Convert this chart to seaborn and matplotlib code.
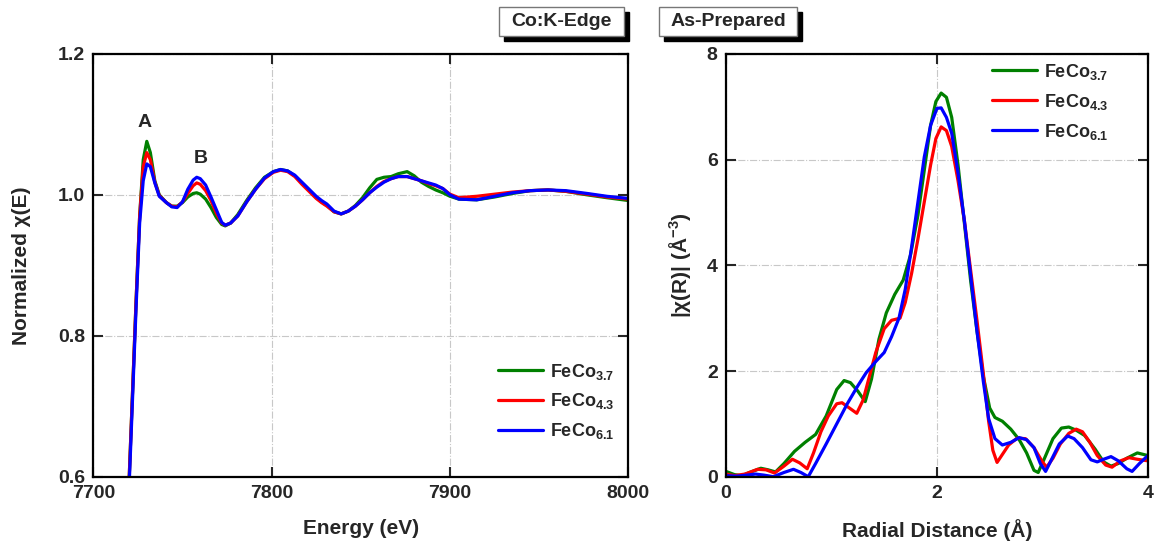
"""
Co K-edge XANES y |chi(R)| para FeCo (as-prepared).
"""

import matplotlib
matplotlib.use("Agg")
import matplotlib.pyplot as plt
from matplotlib.patches import Rectangle
import seaborn as sns
import pandas as pd

# ---- datos XANES (energia en eV) ----
energy = [7718, 7720, 7722, 7724, 7726, 7728, 7730, 7732, 7734.5, 7737,
          7741, 7744, 7747, 7750, 7753, 7756, 7758, 7760, 7763, 7766,
          7769, 7772, 7774, 7777, 7781, 7786, 7791, 7796, 7801, 7805,
          7809, 7813, 7817, 7821, 7825, 7828, 7831, 7835, 7839, 7843,
          7847, 7851, 7855, 7859, 7863, 7867, 7871, 7876, 7880, 7884,
          7888, 7892, 7896, 7900, 7905, 7915, 7925, 7935, 7945, 7955,
          7965, 7977, 7988, 8000]
xanes_37 = [0.50, 0.59, 0.72, 0.85, 0.97, 1.050, 1.076, 1.060, 1.020, 1.000,
            0.989, 0.984, 0.984, 0.989, 0.997, 1.002, 1.003, 1.001, 0.994, 0.982,
            0.968, 0.958, 0.956, 0.960, 0.972, 0.992, 1.010, 1.025, 1.033, 1.036,
            1.034, 1.027, 1.017, 1.007, 0.996, 0.990, 0.985, 0.976, 0.973, 0.977,
            0.985, 0.996, 1.010, 1.022, 1.025, 1.026, 1.030, 1.033, 1.027, 1.018,
            1.012, 1.007, 1.003, 0.998, 0.994, 0.993, 0.997, 1.002, 1.006, 1.007,
            1.005, 1.000, 0.996, 0.992]
xanes_43 = [0.50, 0.59, 0.72, 0.85, 0.97, 1.040, 1.060, 1.050, 1.018, 0.999,
            0.989, 0.984, 0.983, 0.990, 1.002, 1.013, 1.017, 1.015, 1.006, 0.992,
            0.974, 0.960, 0.957, 0.960, 0.970, 0.990, 1.008, 1.023, 1.032, 1.035,
            1.033, 1.026, 1.015, 1.005, 0.995, 0.989, 0.984, 0.976, 0.973, 0.977,
            0.984, 0.993, 1.003, 1.012, 1.019, 1.023, 1.026, 1.026, 1.023, 1.020,
            1.016, 1.013, 1.009, 1.001, 0.996, 0.998, 1.001, 1.004, 1.006, 1.007,
            1.005, 1.001, 0.997, 0.994]
xanes_61 = [0.49, 0.58, 0.71, 0.84, 0.96, 1.020, 1.044, 1.040, 1.017, 0.998,
            0.989, 0.983, 0.982, 0.990, 1.008, 1.021, 1.025, 1.023, 1.014, 0.997,
            0.979, 0.961, 0.957, 0.960, 0.970, 0.990, 1.008, 1.024, 1.033, 1.036,
            1.034, 1.028, 1.018, 1.008, 0.998, 0.992, 0.987, 0.977, 0.973, 0.977,
            0.984, 0.993, 1.003, 1.011, 1.018, 1.023, 1.026, 1.026, 1.023, 1.020,
            1.017, 1.014, 1.009, 1.000, 0.994, 0.993, 0.998, 1.003, 1.006, 1.007,
            1.006, 1.002, 0.998, 0.995]

# ---- datos EXAFS |chi(R)| ----
r_37 = [0.00, 0.08, 0.15, 0.25, 0.33, 0.40, 0.47, 0.55, 0.65, 0.75,
        0.85, 0.95, 1.05, 1.12, 1.18, 1.25, 1.32, 1.38, 1.45, 1.52,
        1.60, 1.68, 1.75, 1.82, 1.88, 1.94, 1.99, 2.04, 2.09, 2.14,
        2.20, 2.26, 2.32, 2.38, 2.44, 2.50, 2.55, 2.62, 2.70, 2.78,
        2.85, 2.92, 2.96, 3.02, 3.10, 3.18, 3.25, 3.32, 3.40, 3.50,
        3.58, 3.65, 3.72, 3.80, 3.90, 4.00]
chi_37 = [0.10, 0.04, 0.02, 0.10, 0.16, 0.13, 0.09, 0.25, 0.48, 0.65,
          0.80, 1.15, 1.65, 1.82, 1.78, 1.62, 1.42, 1.85, 2.60, 3.10,
          3.45, 3.72, 4.20, 4.95, 5.80, 6.65, 7.10, 7.26, 7.18, 6.80,
          5.90, 4.80, 3.70, 2.75, 1.90, 1.30, 1.12, 1.05, 0.90, 0.70,
          0.45, 0.12, 0.08, 0.35, 0.72, 0.92, 0.94, 0.88, 0.78, 0.52,
          0.28, 0.20, 0.25, 0.35, 0.45, 0.40]
r_43 = [0.00, 0.08, 0.18, 0.30, 0.38, 0.46, 0.55, 0.63, 0.70, 0.77,
        0.83, 0.90, 0.97, 1.05, 1.10, 1.17, 1.24, 1.30, 1.36, 1.42,
        1.50, 1.57, 1.65, 1.70, 1.76, 1.82, 1.88, 1.94, 1.99, 2.04,
        2.09, 2.14, 2.20, 2.26, 2.32, 2.38, 2.44, 2.49, 2.53, 2.57,
        2.62, 2.68, 2.76, 2.84, 2.92, 3.00, 3.04, 3.10, 3.17, 3.25,
        3.32, 3.38, 3.45, 3.52, 3.60, 3.66, 3.74, 3.82, 3.90, 4.00]
chi_43 = [0.05, 0.02, 0.05, 0.14, 0.13, 0.07, 0.20, 0.33, 0.26, 0.15,
          0.45, 0.85, 1.15, 1.38, 1.40, 1.30, 1.20, 1.45, 1.90, 2.35,
          2.80, 2.96, 3.00, 3.30, 3.85, 4.50, 5.20, 5.90, 6.40, 6.62,
          6.55, 6.25, 5.60, 4.85, 3.90, 2.95, 1.95, 1.05, 0.50, 0.27,
          0.42, 0.60, 0.73, 0.72, 0.55, 0.28, 0.18, 0.35, 0.62, 0.82,
          0.90, 0.85, 0.65, 0.40, 0.22, 0.18, 0.30, 0.36, 0.33, 0.30]
r_61 = [0.00, 0.10, 0.20, 0.28, 0.36, 0.45, 0.55, 0.64, 0.71, 0.78,
        0.85, 0.95, 1.05, 1.15, 1.25, 1.33, 1.42, 1.50, 1.57, 1.64,
        1.70, 1.76, 1.82, 1.88, 1.94, 2.00, 2.04, 2.09, 2.14, 2.20,
        2.26, 2.32, 2.38, 2.44, 2.49, 2.55, 2.62, 2.70, 2.78, 2.85,
        2.92, 2.98, 3.03, 3.08, 3.16, 3.24, 3.30, 3.38, 3.46, 3.52,
        3.58, 3.65, 3.72, 3.80, 3.85, 3.92, 4.00]
chi_61 = [0.02, 0.01, 0.03, 0.05, 0.03, 0.00, 0.08, 0.14, 0.08, 0.00,
          0.25, 0.62, 1.00, 1.38, 1.72, 1.97, 2.18, 2.35, 2.65, 3.00,
          3.55, 4.35, 5.20, 6.05, 6.65, 6.97, 6.98, 6.80, 6.50, 5.75,
          4.85, 3.80, 2.75, 1.80, 1.10, 0.72, 0.60, 0.65, 0.74, 0.70,
          0.55, 0.25, 0.10, 0.30, 0.62, 0.77, 0.72, 0.55, 0.32, 0.28,
          0.33, 0.38, 0.30, 0.15, 0.10, 0.25, 0.40]

labels = ["FeCo$_{3.7}$", "FeCo$_{4.3}$", "FeCo$_{6.1}$"]
colors = ["#008000", "#ff0000", "#0000ff"]

sns.set_style("ticks")
plt.rcParams["font.family"] = ["Liberation Sans", "DejaVu Sans"]
plt.rcParams["font.weight"] = "bold"
plt.rcParams["mathtext.fontset"] = "custom"
plt.rcParams["mathtext.rm"] = "Liberation Sans:bold"
plt.rcParams["mathtext.it"] = "Liberation Sans:bold"
plt.rcParams["mathtext.bf"] = "Liberation Sans:bold"

fig = plt.figure(figsize=(11.56, 5.43), dpi=100)
ax1 = fig.add_axes([0.0807, 0.1221, 0.4628, 0.7785])
ax2 = fig.add_axes([0.628, 0.1221, 0.365, 0.7785])

# XANES
for y, lab, c in zip([xanes_37, xanes_43, xanes_61], labels, colors):
    df = pd.DataFrame({"E": energy, "mu": y})
    sns.lineplot(data=df, x="E", y="mu", color=c, lw=2.3, label=lab, ax=ax1)

# EXAFS
for r, y, lab, c in zip([r_37, r_43, r_61], [chi_37, chi_43, chi_61], labels, colors):
    df = pd.DataFrame({"R": r, "chi": y})
    sns.lineplot(data=df, x="R", y="chi", color=c, lw=2.3, label=lab, ax=ax2)

ax1.set_xlim(7700, 8000)
ax1.set_ylim(0.6, 1.2)
ax1.set_xticks([7700, 7800, 7900, 8000])
ax1.set_yticks([0.6, 0.8, 1.0, 1.2])
ax1.set_yticklabels(["0.6", "0.8", "1.0", "1.2"])
ax1.set_xlabel("Energy (eV)", fontsize=15, fontweight="bold", labelpad=12)
ax1.set_ylabel("Normalized χ(E)", fontsize=15, fontweight="bold", labelpad=19)
ax1.text(7729, 1.103, "A", fontsize=14, fontweight="bold", ha="center", va="center")
ax1.text(7760, 1.052, "B", fontsize=14, fontweight="bold", ha="center", va="center")

ax2.set_xlim(0, 4)
ax2.set_ylim(0, 8)
ax2.set_xticks([0, 2, 4])
ax2.set_yticks([0, 2, 4, 6, 8])
ax2.set_xlabel("Radial Distance (Å)", fontsize=15, fontweight="bold", labelpad=12)
ax2.set_ylabel("|χ(R)| (Å$^{-3}$)", fontsize=15, fontweight="bold", labelpad=10)

for ax in (ax1, ax2):
    ax.grid(True, ls="-.", color="#c8c8c8", lw=0.8)
    ax.tick_params(direction="in", length=7, width=1.5, labelsize=14,
                   top=True, right=True, pad=6)
    for lbl in ax.get_xticklabels() + ax.get_yticklabels():
        lbl.set_fontweight("bold")
    for s in ax.spines.values():
        s.set_linewidth(1.6)
        s.set_color("black")

ax1.legend(frameon=False, loc="lower right", bbox_to_anchor=(1.005, 0.045),
           fontsize=13, handlelength=2.5, labelspacing=0.55, handletextpad=0.4)
ax2.legend(frameon=False, loc="upper right", bbox_to_anchor=(0.945, 1.02),
           fontsize=13, handlelength=2.5, labelspacing=0.55, handletextpad=0.4)

# cajas de titulo con sombra
for x0, x1, txt in [(499, 624, "Co:K-Edge"), (659, 797, "As-Prepared")]:
    w = (x1 - x0) / 1156
    h = 29 / 543
    left = x0 / 1156
    bottom = 1 - 36 / 543
    fig.add_artist(Rectangle((left + 5 / 1156, bottom - 5 / 543), w, h,
                             transform=fig.transFigure, fc="black", ec="black"))
    fig.add_artist(Rectangle((left, bottom), w, h, transform=fig.transFigure,
                             fc="white", ec="#777777", lw=1.0))
    fig.text(left + w / 2, bottom + h / 2, txt, fontsize=14, fontweight="bold",
             ha="center", va="center")

fig.savefig("out.png", dpi=100)
